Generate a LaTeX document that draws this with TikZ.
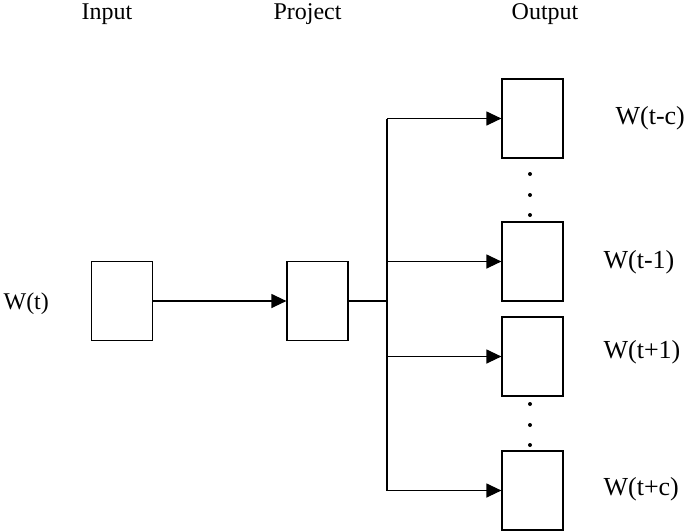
\documentclass[tikz,border=0pt]{standalone}
\usepackage{fontspec}
\setmainfont{Liberation Serif}
\usetikzlibrary{arrows.meta}
\begin{document}
\begin{tikzpicture}[x=1pt,y=-1pt,>={Triangle[length=15pt,width=14pt]},line width=1.2pt,
	unit/.style={draw,minimum width=61pt,minimum height=79pt,inner sep=0pt},
	head/.style={font=\fontsize{24}{24}\selectfont,inner sep=0pt,anchor=base},
	wlab/.style={font=\fontsize{26}{26}\selectfont,inner sep=0pt,anchor=base west}]
	\useasboundingbox (0,0) rectangle (685,531);
	% column titles
	\node[head] (tin) at (107,19) {Input};
	\node[head] (tproj) at (307.5,19) {Project};
	\node[head] (tout) at (545,19) {Output};
	% boxes
	\node[unit] (inp) at (122,301) {};
	\node[unit] (proj) at (317.5,301) {};
	\node[unit] (o1) at (532.5,118.5) {};
	\node[unit] (o2) at (532.5,261.5) {};
	\node[unit] (o3) at (532.5,356.5) {};
	\node[unit] (o4) at (532.5,490.5) {};
	% words
	\node[head,anchor=base west] (win) at (3,309) {W(t)};
	\node[wlab] (w1) at (615,124) {W(t-c)};
	\node[wlab] (w2) at (603,268) {W(t-1)};
	\node[wlab] (w3) at (603,358) {W(t+1)};
	\node[wlab] (w4) at (603,495) {W(t+c)};
	% connections
	\coordinate (jn) at (387,301);
	\draw[->] (inp) -- (proj);
	\draw (proj) -- (jn);
	\draw (jn|-o1.west) -- (jn|-o4.west);
	\foreach \k in {1,...,4}
		\draw[->] (jn|-o\k.west) -- (o\k.west);
	\foreach \yy in {174,195,215,404,425,445}
		\fill (530,\yy) circle(2pt);
\end{tikzpicture}
\end{document}
